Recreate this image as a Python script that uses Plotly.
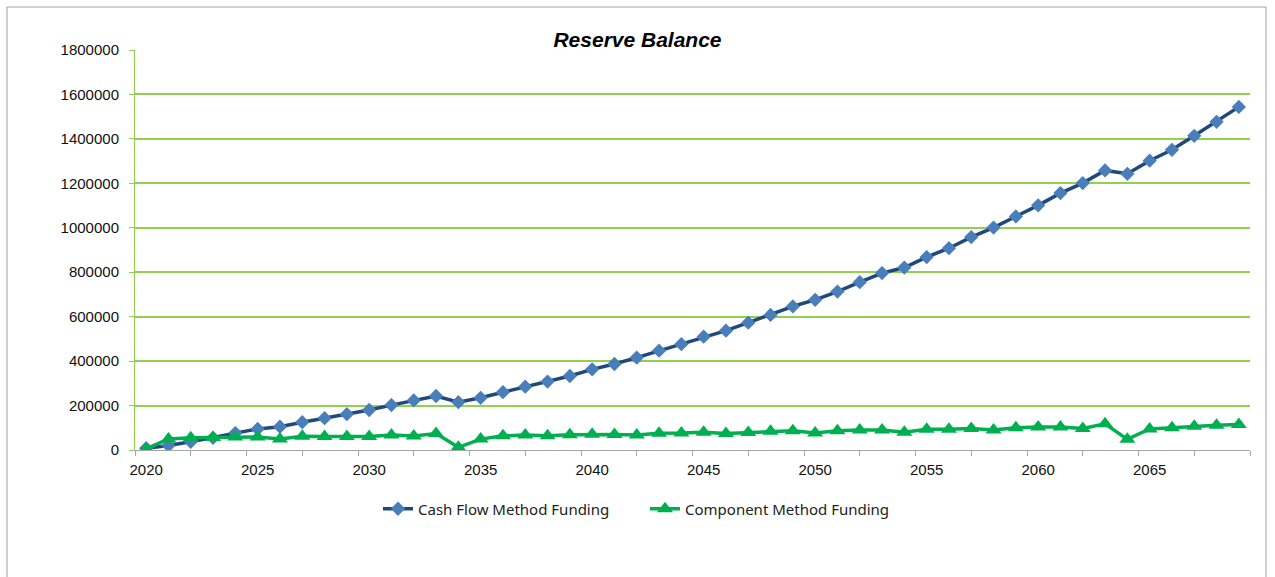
import plotly.graph_objects as go

# Reserve balance projections, one value per year
years = list(range(2020, 2070))

cash_flow_funding = [
    8000, 20000, 37000, 55000, 76000, 95000, 105000, 125000, 143000, 161000,
    180000, 202000, 223000, 243000, 215000, 235000, 260000, 285000, 308000, 333000,
    363000, 387000, 416000, 447000, 476000, 510000, 537000, 573000, 608000, 646000,
    676000, 713000, 755000, 796000, 821000, 868000, 908000, 958000, 1001000, 1051000,
    1101000, 1156000, 1201000, 1258000, 1243000, 1302000, 1351000, 1414000, 1477000, 1544000,
]

component_funding = [
    5000, 50000, 55000, 56000, 58000, 59000, 50000, 62000, 61000, 61000,
    61000, 68000, 63000, 74000, 12000, 49000, 64000, 67000, 64000, 69000,
    71000, 70000, 67000, 75000, 76000, 80000, 74000, 79000, 84000, 87000,
    77000, 87000, 90000, 90000, 80000, 93000, 93000, 97000, 90000, 100000,
    103000, 103000, 97000, 118000, 48000, 95000, 100000, 107000, 111000, 115000,
]

year_labels = [2020, 2025, 2030, 2035, 2040, 2045, 2050, 2055, 2060, 2065]
y_ticks = list(range(0, 1800001, 200000))

GRID_GREEN = "#92D050"
AXIS_GREY = "#A6A6A6"
TICK_FONT = "Liberation Sans, Arial, sans-serif"

fig = go.Figure()

fig.add_trace(go.Scatter(
    x=years, y=cash_flow_funding,
    name="Cash Flow Method Funding",
    mode="lines+markers",
    line=dict(color="#1F497D", width=3.5),
    marker=dict(symbol="diamond", size=11, color="#4A7EBB"),
))

fig.add_trace(go.Scatter(
    x=years, y=component_funding,
    name="Component Method Funding",
    mode="lines+markers",
    line=dict(color="#00B050", width=3.5),
    marker=dict(symbol="triangle-up", size=14, color="#00B050"),
))

fig.update_layout(
    width=1275,
    height=577,
    margin=dict(l=135, r=25, t=50, b=127),
    paper_bgcolor="white",
    plot_bgcolor="white",
    title=dict(
        text="<b><i>Reserve Balance</i></b>",
        font=dict(family="Liberation Sans, Arial, sans-serif", size=21, color="black"),
        x=0.5, xref="container", xanchor="center",
        y=1 - 40 / 577, yref="container", yanchor="middle",
    ),
    legend=dict(
        orientation="h",
        x=378 / 1275, xref="container", xanchor="left",
        y=1 - 509 / 577, yref="container", yanchor="middle",
        entrywidth=222,
        font=dict(family="Noto Sans, Lato, sans-serif", size=15, color="#222222"),
        bgcolor="rgba(0,0,0,0)",
    ),
    showlegend=True,
)

fig.update_xaxes(
    type="linear",
    range=[2019.5, 2069.5],
    tickmode="array",
    tickvals=year_labels,
    ticktext=[str(v) for v in year_labels],
    ticks="",
    showgrid=False,
    zeroline=False,
    showline=True,
    linecolor=AXIS_GREY,
    linewidth=1,
    ticklabelstandoff=6,
    tickfont=dict(family=TICK_FONT, size=15, color="#111111"),
    minor=dict(ticks="outside", tick0=2019.5, dtick=2.5, ticklen=5,
               tickcolor=AXIS_GREY, tickwidth=1, showgrid=False),
)

fig.update_yaxes(
    range=[0, 1800000],
    tickmode="array",
    tickvals=y_ticks,
    ticktext=[str(v) for v in y_ticks],
    ticks="outside",
    ticklen=5,
    tickcolor=GRID_GREEN,
    showgrid=True,
    gridcolor=GRID_GREEN,
    gridwidth=1.5,
    zeroline=False,
    showline=True,
    linecolor=GRID_GREEN,
    linewidth=1,
    ticklabelstandoff=7,
    tickfont=dict(family=TICK_FONT, size=15, color="#111111"),
)

# Chart-area border
fig.add_shape(
    type="rect", xref="paper", yref="paper",
    x0=(7 - 135) / 1115, x1=(1266 - 135) / 1115,
    y0=-0.4, y1=(450 - 7) / 400,
    line=dict(color="#A0A0A0", width=1),
    fillcolor="rgba(0,0,0,0)",
    layer="below",
)

fig.write_html("out.html")
